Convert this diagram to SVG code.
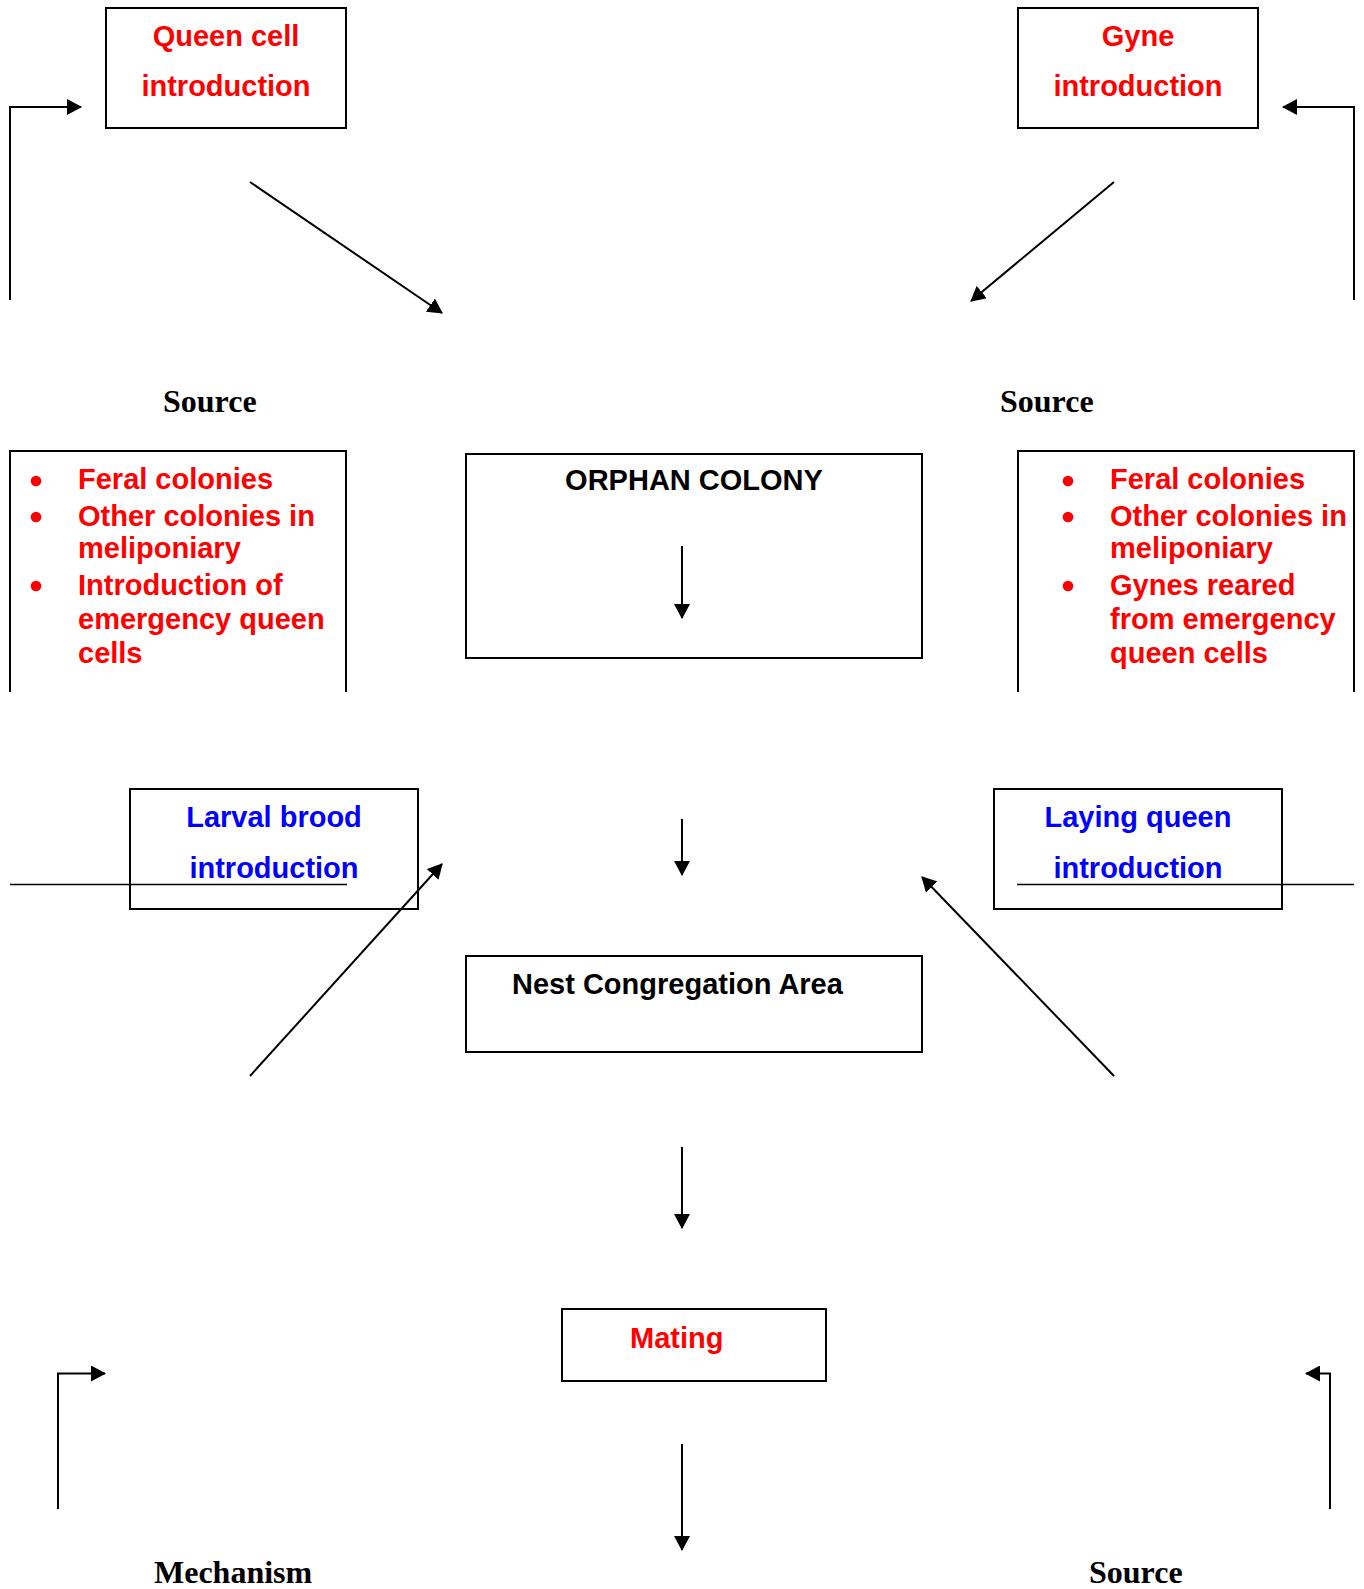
<svg xmlns="http://www.w3.org/2000/svg" width="1364" height="1589" viewBox="0 0 1364 1589">
<style>
.box{fill:none;stroke:#000;stroke-width:2}
.ln{fill:none;stroke:#000;stroke-width:2}
.thin{fill:none;stroke:#000;stroke-width:1.6}
.arr{fill:none;stroke:#000;stroke-width:2;marker-end:url(#ah)}
.t{font-family:"Liberation Sans",Arial,sans-serif;font-weight:bold;font-size:29px}
.red{fill:#ff0000}
.blue{fill:#0000ff}
.blk{fill:#000}
.src{font-family:"Liberation Serif","Times New Roman",serif;font-weight:bold;font-size:32px;fill:#000}
.bul{fill:#ff0000}
</style>
<defs>
<marker id="ah" markerUnits="userSpaceOnUse" viewBox="0 0 15 16" refX="14" refY="8" markerWidth="15" markerHeight="16" orient="auto">
<path d="M0,0 L15,8 L0,16 z" fill="#000"/>
</marker>
</defs>
<rect width="1364" height="1589" fill="#fff"/>

<g id="queen-cell-introduction">
<rect class="box" x="106" y="8" width="240" height="120"/>
<text class="t red" x="226" y="46" text-anchor="middle">Queen cell</text>
<text class="t red" x="226" y="96" text-anchor="middle">introduction</text>
</g>

<g id="gyne-introduction">
<rect class="box" x="1018" y="8" width="240" height="120"/>
<text class="t red" x="1138" y="46" text-anchor="middle">Gyne</text>
<text class="t red" x="1138" y="96" text-anchor="middle">introduction</text>
</g>

<g id="source-left-label">
<text class="src" x="163" y="412">Source</text>
</g>
<g id="source-right-label">
<text class="src" x="1000" y="412">Source</text>
</g>

<g id="source-left">
<path class="box" d="M10,692 V451 H346 V692"/>
<circle class="bul" cx="36" cy="481" r="5.3"/>
<circle class="bul" cx="36" cy="517" r="5.3"/>
<circle class="bul" cx="36" cy="586" r="5.3"/>
<text class="t red" x="78" y="489">Feral colonies</text>
<text class="t red" x="78" y="526">Other colonies in</text>
<text class="t red" x="78" y="558">meliponiary</text>
<text class="t red" x="78" y="595">Introduction of</text>
<text class="t red" x="78" y="629">emergency queen</text>
<text class="t red" x="78" y="663">cells</text>
</g>

<g id="source-right">
<path class="box" d="M1018,692 V451 H1354 V692"/>
<circle class="bul" cx="1068" cy="481" r="5.3"/>
<circle class="bul" cx="1068" cy="517" r="5.3"/>
<circle class="bul" cx="1068" cy="586" r="5.3"/>
<text class="t red" x="1110" y="489">Feral colonies</text>
<text class="t red" x="1110" y="526">Other colonies in</text>
<text class="t red" x="1110" y="558">meliponiary</text>
<text class="t red" x="1110" y="595">Gynes reared</text>
<text class="t red" x="1110" y="629">from emergency</text>
<text class="t red" x="1110" y="663">queen cells</text>
</g>

<g id="orphan-colony">
<rect class="box" x="466" y="454" width="456" height="204"/>
<text class="t blk" x="694" y="490" text-anchor="middle">ORPHAN COLONY</text>
</g>

<g id="larval-brood-introduction">
<rect class="box" x="130" y="789" width="288" height="120"/>
<text class="t blue" x="274" y="827" text-anchor="middle">Larval brood</text>
<text class="t blue" x="274" y="878" text-anchor="middle">introduction</text>
</g>

<g id="laying-queen-introduction">
<rect class="box" x="994" y="789" width="288" height="120"/>
<text class="t blue" x="1138" y="827" text-anchor="middle">Laying queen</text>
<text class="t blue" x="1138" y="878" text-anchor="middle">introduction</text>
</g>

<g id="nest-congregation-area">
<rect class="box" x="466" y="956" width="456" height="96"/>
<text class="t blk" x="512" y="994">Nest Congregation Area</text>
</g>

<g id="mating">
<rect class="box" x="562" y="1309" width="264" height="72"/>
<text class="t red" x="630" y="1348">Mating</text>
</g>

<g id="mechanism-label">
<text class="src" x="154" y="1583">Mechanism</text>
</g>
<g id="source-bottom-label">
<text class="src" x="1089" y="1583">Source</text>
</g>

<g id="connectors">
<path class="arr" d="M10,300 V107 H81"/>
<path class="arr" d="M1354,300 V107 H1283"/>
<path class="arr" d="M250,182 L442,313"/>
<path class="arr" d="M1114,182 L971,301"/>
<path class="arr" d="M682,546 V618"/>
<path class="arr" d="M682,819 V875"/>
<path class="thin" d="M10,884.5 H347"/>
<path class="thin" d="M1017,884.5 H1354"/>
<path class="arr" d="M250,1076 L442,864"/>
<path class="arr" d="M1114,1076 L922,877"/>
<path class="arr" d="M682,1147 V1228"/>
<path class="arr" d="M682,1444 V1550"/>
<path class="arr" d="M58,1509 V1373.5 H105"/>
<path class="arr" d="M1330,1509 V1373.5 H1306"/>
</g>
</svg>
